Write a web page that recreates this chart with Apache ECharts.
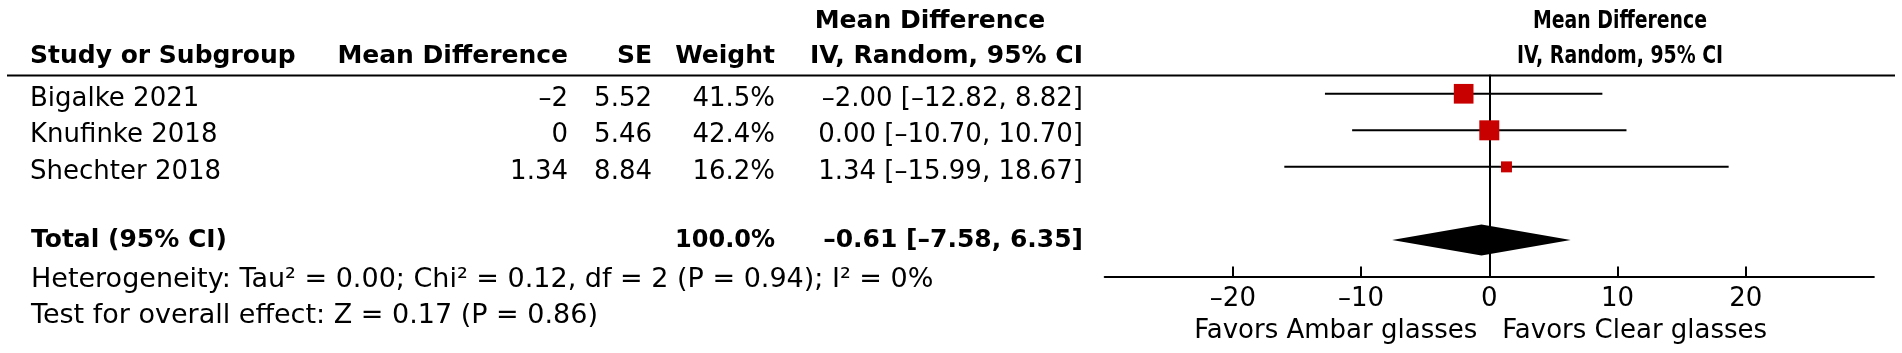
<!DOCTYPE html>
<html><head><meta charset="utf-8">
<script src="https://cdn.jsdelivr.net/npm/echarts@6/dist/echarts.min.js"></script>
<style>html,body{margin:0;padding:0;background:#fff}#c{width:1902px;height:353px}</style>
</head><body><div id="c"></div>
<script>
// ---- data ----
const studies = ['Bigalke 2021', 'Knufinke 2018', 'Shechter 2018'];
const meanDiff = [-2, 0, 1.34];
const seVals = [5.52, 5.46, 8.84];
const weights = [41.5, 42.4, 16.2];
const ciLow = [-12.82, -10.70, -15.99];
const ciHigh = [8.82, 10.70, 18.67];
const totalLabel = 'Total (95% CI)';
const totalWeight = 100.0;
const totalEst = -0.61;
const totalLow = -7.58;
const totalHigh = 6.35;
const xTicks = [-20, -10, 0, 10, 20];
const colHeaders = ['Study or Subgroup', 'Mean Difference', 'SE', 'Weight'];
const ciHeader = ['Mean Difference', 'IV, Random, 95% CI'];
const plotHeader = ['Mean Difference', 'IV, Random, 95% CI'];
const favorsLeft = 'Favors Ambar glasses';
const favorsRight = 'Favors Clear glasses';
const heterogeneityText = 'Heterogeneity: Tau\u00b2 = 0.00; Chi\u00b2 = 0.12, df = 2 (P = 0.94); I\u00b2 = 0%';
const overallText = 'Test for overall effect: Z = 0.17 (P = 0.86)';

// ---- layout / style ----
const FONT = '"DejaVu Sans", sans-serif';
const FS = 26, FSB = 25, FSF = 27;
const TXT = '#000';
const RED = '#c80000';
const COL = { name: 30, md: 568, se: 652, w: 775, ci: 1083, foot: 31 };
const dash = s => String(s).replace(/-/g, '\u2013');
const fmtCI = (e, l, h) => dash(e.toFixed(2) + ' [' + l.toFixed(2) + ', ' + h.toFixed(2) + ']');
const rowY = i => i + 0.5;
const TOTAL_ROW = 4.5;
const GRID_TOP = 75.5, GRID_H = 201, YMAX = 5.5;
const UNIT = GRID_H / YMAX;
const pxToY = px => (px - GRID_TOP) / UNIT;
const X0 = 1489.3, PXU = 12.82;

function txt(x, y, text, align, bold, size, sx) {
  return { type: 'text', x: x, y: y, scaleX: sx || 1,
    style: { x: 0, y: 0, text: text, align: align, verticalAlign: 'middle',
      font: (bold ? 'bold ' : '') + (size || (bold ? FSB : FS)) + 'px ' + FONT, fill: TXT } };
}

const chart = echarts.init(document.getElementById('c'), null, { renderer: 'canvas' });
chart.setOption({
  animation: false,
  backgroundColor: '#fff',
  grid: [
    { left: 0, top: GRID_TOP, width: 1902, height: GRID_H },
    { left: X0 - 30 * PXU, top: GRID_TOP, width: 60 * PXU, height: GRID_H }
  ],
  xAxis: [
    { gridIndex: 0, type: 'value', min: 0, max: 1902, show: false },
    { gridIndex: 1, type: 'value', min: -30, max: 30, interval: 10,
      axisLine: { show: true, onZero: false, lineStyle: { color: '#000', width: 2 } },
      axisTick: { show: true, inside: true, length: 10, customValues: xTicks, lineStyle: { color: '#000', width: 2 } },
      axisLabel: { show: true, customValues: xTicks, margin: 10, color: TXT, fontSize: FS, fontFamily: FONT,
        formatter: v => dash(v) },
      splitLine: { show: false } }
  ],
  yAxis: [
    { gridIndex: 0, type: 'value', min: 0, max: YMAX, inverse: true, show: false },
    { gridIndex: 1, type: 'value', min: 0, max: YMAX, inverse: true,
      axisLine: { show: true, onZero: true, lineStyle: { color: '#000', width: 2 } },
      axisTick: { show: false }, axisLabel: { show: false }, splitLine: { show: false } }
  ],
  graphic: [
    { type: 'line', shape: { x1: 7, y1: 75.5, x2: 1895, y2: 75.5 }, style: { stroke: '#000', lineWidth: 2 }, z: 10 }
  ],
  series: [
    // table rows
    { type: 'custom', xAxisIndex: 0, yAxisIndex: 0, clip: false,
      data: studies.map((s, i) => [i]),
      renderItem: (params, api) => {
        const i = api.value(0);
        const y = api.coord([0, rowY(i)])[1] + 5;
        return { type: 'group', children: [
          txt(COL.name, y, studies[i], 'left'),
          txt(COL.md, y, dash(meanDiff[i]), 'right'),
          txt(COL.se, y, seVals[i].toFixed(2), 'right'),
          txt(COL.w, y, weights[i].toFixed(1) + '%', 'right'),
          txt(COL.ci, y, fmtCI(meanDiff[i], ciLow[i], ciHigh[i]), 'right')
        ] };
      } },
    // headers, total row and footers
    { type: 'custom', xAxisIndex: 0, yAxisIndex: 0, clip: false,
      data: [[0]],
      renderItem: (params, api) => {
        const h1 = api.coord([0, pxToY(21)])[1];
        const h2 = api.coord([0, pxToY(56)])[1];
        const ty = api.coord([0, TOTAL_ROW])[1] + 1;
        const f1 = api.coord([0, pxToY(280)])[1];
        const f2 = api.coord([0, pxToY(316)])[1];
        return { type: 'group', children: [
          txt(COL.name, h2, colHeaders[0], 'left', true),
          txt(COL.md, h2, colHeaders[1], 'right', true),
          txt(COL.se, h2, colHeaders[2], 'right', true),
          txt(COL.w, h2, colHeaders[3], 'right', true),
          txt(930, h1, ciHeader[0], 'center', true),
          txt(COL.ci, h2, ciHeader[1], 'right', true),
          txt(1620, h1, plotHeader[0], 'center', true, 25, 0.755),
          txt(1620, h2, plotHeader[1], 'center', true, 25, 0.755),
          txt(COL.foot, ty, totalLabel, 'left', true),
          txt(COL.w, ty, totalWeight.toFixed(1) + '%', 'right', true, 24),
          txt(COL.ci, ty, fmtCI(totalEst, totalLow, totalHigh), 'right', true),
          txt(COL.foot, f1, heterogeneityText, 'left', false, FSF),
          txt(COL.foot, f2, overallText, 'left', false, FSF)
        ] };
      } },
    // CI whiskers
    { type: 'custom', xAxisIndex: 1, yAxisIndex: 1, clip: false,
      data: studies.map((s, i) => [ciLow[i], ciHigh[i], rowY(i)]),
      renderItem: (params, api) => {
        const a = api.coord([api.value(0), api.value(2)]);
        const b = api.coord([api.value(1), api.value(2)]);
        return { type: 'line', shape: { x1: a[0], y1: a[1], x2: b[0], y2: b[1] },
          style: { stroke: '#000', lineWidth: 2 } };
      }, z: 2 },
    // study squares
    { type: 'scatter', xAxisIndex: 1, yAxisIndex: 1, symbol: 'rect',
      data: studies.map((s, i) => [meanDiff[i], rowY(i), weights[i]]),
      symbolSize: v => 5.4 + 0.344 * v[2],
      itemStyle: { color: RED, opacity: 1 }, z: 3 },
    // pooled diamond
    { type: 'custom', xAxisIndex: 1, yAxisIndex: 1, clip: false,
      data: [[totalLow, totalEst, totalHigh, TOTAL_ROW]],
      renderItem: (params, api) => {
        const l = api.coord([api.value(0), api.value(3)]);
        const m = api.coord([api.value(1), api.value(3)]);
        const r = api.coord([api.value(2), api.value(3)]);
        const hh = 15.5;
        return { type: 'polygon', shape: { points: [[l[0], l[1]], [m[0], m[1] - hh], [r[0], r[1]], [m[0], m[1] + hh]] },
          style: { fill: '#000' } };
      }, z: 3 },
    // favors labels
    { type: 'custom', xAxisIndex: 1, yAxisIndex: 1, clip: false,
      data: [[0, pxToY(331.5)]],
      renderItem: (params, api) => {
        const p = api.coord([api.value(0), api.value(1)]);
        return { type: 'group', children: [
          txt(p[0] - 12, p[1], favorsLeft, 'right'),
          txt(p[0] + 13, p[1], favorsRight, 'left')
        ] };
      } }
  ]
});
</script></body></html>
